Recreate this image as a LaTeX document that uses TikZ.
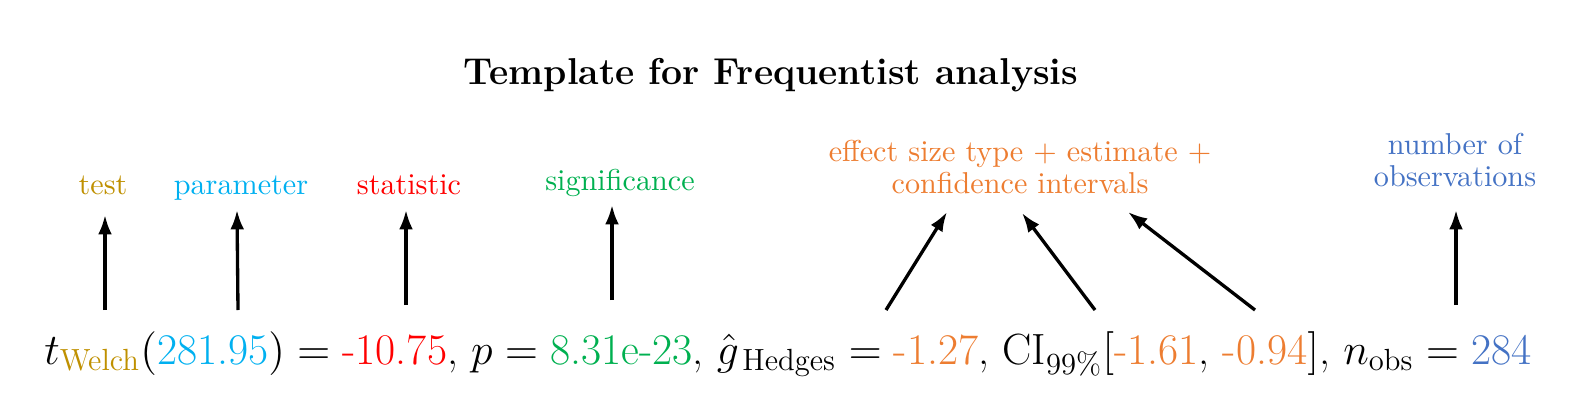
\RequirePackage{fix-cm}
\documentclass[tikz,border=0pt]{standalone}
\usepackage{amsmath}
\usepackage{xcolor}
\usetikzlibrary{arrows.meta}
\definecolor{testcol}{RGB}{191,144,0}
\definecolor{paramcol}{RGB}{0,176,240}
\definecolor{statcol}{RGB}{255,0,0}
\definecolor{sigcol}{RGB}{0,176,80}
\definecolor{effcol}{RGB}{237,125,49}
\definecolor{obscol}{RGB}{68,114,196}

\begin{document}
\begin{tikzpicture}[x=0.0127cm, y=-0.0127cm,
    lbl/.style={font=\fontsize{10.9}{11.6}\selectfont, align=center, inner sep=0pt},
    ptr/.style={-{Latex[length=7pt,width=5pt]}, line width=1.2pt}]
  \useasboundingbox (0,0) rectangle (1581,412);

  % title
  \node[font=\fontsize{13.5}{16}\selectfont\bfseries] (title) at (771,75)
    {Template for Frequentist analysis};

  % reported result
  \node[anchor=base, inner sep=0pt, font=\fontsize{15.8}{18}\selectfont] (result) at (788,364)
    {$t_{\textcolor{testcol}{\text{Welch}}}(\textcolor{paramcol}{\text{281.95}})
      = \textcolor{statcol}{\text{-10.75}}\text{, } p
      = \textcolor{sigcol}{\text{8.31e-23}}\text{, } \hat{g}_{\,\text{Hedges}}
      = \textcolor{effcol}{\text{-1.27}}\text{, CI}_{\text{99\%}}
      [\textcolor{effcol}{\text{-1.61}}\text{, }\textcolor{effcol}{\text{-0.94}}]\text{, }
      n_{\text{obs}} = \textcolor{obscol}{\text{284}}$};

  % labels
  \node[lbl, testcol, anchor=base] (test) at (103,194) {test};
  \node[lbl, paramcol, anchor=base] (param) at (241,194) {parameter};
  \node[lbl, statcol, anchor=base] (stat) at (409,194) {statistic};
  \node[lbl, sigcol, anchor=base] (signif) at (620,190) {significance};
  \node[lbl, effcol] (effect) at (1020,167)
    {effect size type + estimate +\\confidence intervals};
  \node[lbl, obscol] (nobs) at (1455,160) {number of\\observations};

  % arrow ends
  \coordinate (tTest) at (105,310);   \coordinate (hTest) at (105,215);
  \coordinate (tParam) at (238,310);  \coordinate (hParam) at (237,210);
  \coordinate (tStat) at (406,305);   \coordinate (hStat) at (406,210);
  \coordinate (tSig) at (612,300);    \coordinate (hSig) at (612,205);
  \coordinate (tEst) at (886,310);    \coordinate (hEst) at (947,212);
  \coordinate (tLow) at (1095,310);   \coordinate (hLow) at (1022,213);
  \coordinate (tUpp) at (1255,310);   \coordinate (hUpp) at (1128,212);
  \coordinate (tObs) at (1456,305);   \coordinate (hObs) at (1456,210);

  % arrows
  \draw[ptr] (tTest) -- (hTest);
  \draw[ptr] (tParam) -- (hParam);
  \draw[ptr] (tStat) -- (hStat);
  \draw[ptr] (tSig) -- (hSig);
  \draw[ptr] (tEst) -- (hEst);
  \draw[ptr] (tLow) -- (hLow);
  \draw[ptr] (tUpp) -- (hUpp);
  \draw[ptr] (tObs) -- (hObs);
\end{tikzpicture}
\end{document}
